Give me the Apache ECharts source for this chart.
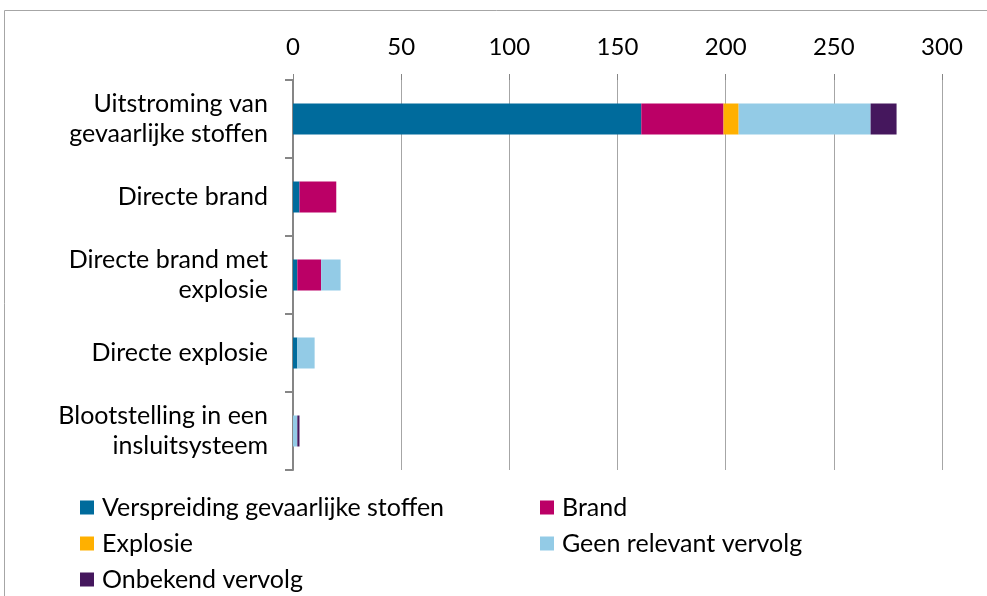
<!DOCTYPE html>
<html><head><meta charset="utf-8">
<script src="https://cdn.jsdelivr.net/npm/echarts@6/dist/echarts.min.js"></script>
<style>html,body{margin:0;padding:0;background:#fff}#c{width:987px;height:596px}</style>
</head><body><div id="c"></div>
<script>
const categories = ["Uitstroming van\ngevaarlijke stoffen","Directe brand","Directe brand met\nexplosie","Directe explosie","Blootstelling in een\ninsluitsysteem"];
const seriesNames = ["Verspreiding gevaarlijke stoffen","Brand","Explosie","Geen relevant vervolg","Onbekend vervolg"];
const verspreiding = [161, 3, 2, 2, 0];
const brand = [38, 17, 11, 0, 0];
const explosie = [7, 0, 0, 0, 0];
const geenRelevant = [61, 0, 9, 8, 2];
const onbekend = [12, 0, 0, 0, 1];
const xTicks = [0, 50, 100, 150, 200, 250, 300];
const colors = ["#006b9c","#bb0066","#ffb000","#93cbe6","#45175d"];
const values = [verspreiding, brand, explosie, geenRelevant, onbekend];
const font = "Lato, sans-serif";
const fs = 25;
const chart = echarts.init(document.getElementById('c'));
chart.setOption({
  animation:false,
  graphic:[{type:'rect',shape:{x:4.5,y:10.5,width:1100,height:700},style:{fill:'none',stroke:'#a6a6a6',lineWidth:1}}],
  grid:{left:293,right:45,top:80,bottom:126},
  xAxis:{type:'value',position:'top',min:xTicks[0],max:xTicks[xTicks.length-1],interval:50,
    axisLine:{show:false},axisTick:{show:true,length:6,lineStyle:{color:'#868686'}},
    splitLine:{show:true,lineStyle:{color:'#a6a6a6',width:1}},
    axisLabel:{fontSize:24,color:'#000',fontFamily:font,margin:21}},
  yAxis:{type:'category',inverse:true,data:categories,
    axisLine:{show:true,lineStyle:{color:'#868686',width:2}},
    axisTick:{show:true,length:8,lineStyle:{color:'#868686',width:2}},
    axisLabel:{fontSize:fs,color:'#000',fontFamily:font,margin:25,lineHeight:30,align:'right'}},
  legend:[
    {data:[seriesNames[0],seriesNames[2],seriesNames[4]],orient:'vertical',left:80,top:495,width:400,height:140,padding:0,itemWidth:14,itemHeight:14,itemGap:11,
      textStyle:{fontSize:fs,color:'#000',fontFamily:font,padding:[0,0,0,3]},icon:'rect'},
    {data:[seriesNames[1],seriesNames[3]],orient:'vertical',left:540,top:495,width:400,height:140,padding:0,itemWidth:14,itemHeight:14,itemGap:11,
      textStyle:{fontSize:fs,color:'#000',fontFamily:font,padding:[0,0,0,3]},icon:'rect'}
  ],
  series: seriesNames.map((n,i)=>({name:n,type:'bar',stack:'s',data:values[i],barWidth:31,itemStyle:{color:colors[i]}}))
});
</script></body></html>
